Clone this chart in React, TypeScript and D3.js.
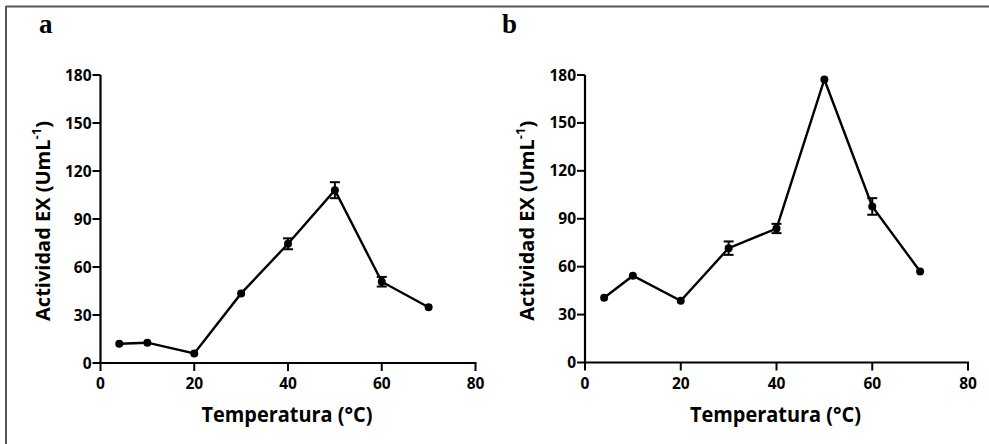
import React from "react";
import * as d3 from "d3";

const temps = [4, 10, 20, 30, 40, 50, 60, 70];
const activityA = [12, 12.7, 6, 43.5, 74.5, 108, 50.8, 34.8];
const errorA = [0, 0, 0, 0, 3.4, 5, 3, 0];
const activityB = [40.5, 54.3, 38.6, 71.6, 83.9, 177.2, 97.7, 57];
const errorB = [0, 0, 0, 4.2, 2.9, 0, 5.2, 0];
const xTicks = [0, 20, 40, 60, 80];
const yTicks = [0, 30, 60, 90, 120, 150, 180];
const panelLabels = ["a", "b"];
const xTitle = "Temperatura (°C)";
const yTitleMain = "Actividad EX (UmL";
const yTitleSup = "-1";

const W = 989;
const H = 444;
const FONT = "'Open Sans', 'DejaVu Sans', sans-serif";

type PanelProps = {
  values: number[];
  errors: number[];
  x0: number;
  x1: number;
  y0: number;
  y1: number;
  label: string;
  labelX: number;
  yTitleX: number;
};

function Panel({ values, errors, x0, x1, y0, y1, label, labelX, yTitleX }: PanelProps) {
  const x = d3.scaleLinear().domain([0, 80]).range([x0, x1]);
  const y = d3.scaleLinear().domain([0, 180]).range([y0, y1]);
  const line = d3
    .line<number>()
    .x((_, i) => x(temps[i]))
    .y((d) => y(d));
  const cx = (x0 + x1) / 2 - 1;
  const yMid = (y0 + y1) / 2 + 2;
  return (
    <g>
      <text
        x={labelX}
        y={33}
        fontFamily="'Liberation Serif', 'Times New Roman', serif"
        fontWeight="bold"
        fontSize={27}
        fill="#000"
      >
        {label}
      </text>
      {/* axes */}
      <line x1={x0} x2={x0} y1={y1} y2={y0 + 1} stroke="#000" strokeWidth={2.2} />
      <line x1={x0 - 1} x2={x1 + 1} y1={y0} y2={y0} stroke="#000" strokeWidth={2.2} />
      {xTicks.map((t) => (
        <g key={"xt" + t}>
          <line x1={x(t)} x2={x(t)} y1={y0} y2={y0 + 8} stroke="#000" strokeWidth={2} />
          <text
            x={x(t)}
            y={y0 + 26}
            textAnchor="middle"
            fontFamily={FONT}
            fontWeight="bold"
            fontSize={15.5}
            fill="#000"
          >
            {t}
          </text>
        </g>
      ))}
      {yTicks.map((t) => (
        <g key={"yt" + t}>
          <line x1={x0 - 8} x2={x0} y1={y(t)} y2={y(t)} stroke="#000" strokeWidth={2} />
          <text
            x={x0 - 9}
            y={y(t) + 5.5}
            textAnchor="end"
            fontFamily={FONT}
            fontWeight="bold"
            fontSize={15.5}
            fill="#000"
          >
            {t}
          </text>
        </g>
      ))}
      {/* titles */}
      <text
        x={cx}
        y={422}
        textAnchor="middle"
        fontFamily={FONT}
        fontWeight="bold"
        fontSize={20.5}
        fill="#000"
        textLength={171}
        lengthAdjust="spacingAndGlyphs"
      >
        {xTitle}
      </text>
      <text
        transform={`translate(${yTitleX},${yMid}) rotate(-90)`}
        textAnchor="middle"
        fontFamily={FONT}
        fontWeight="bold"
        fontSize={20}
        fill="#000"
      >
        {yTitleMain}
        <tspan fontSize={13} dy={-9}>
          {yTitleSup}
        </tspan>
        <tspan dy={9}>)</tspan>
      </text>
      {/* data */}
      <path d={line(values) || ""} fill="none" stroke="#000" strokeWidth={2.4} />
      {values.map((v, i) =>
        errors[i] > 0 ? (
          <g key={"e" + i} stroke="#000" strokeWidth={2}>
            <line x1={x(temps[i])} x2={x(temps[i])} y1={y(v + errors[i])} y2={y(v - errors[i])} />
            <line x1={x(temps[i]) - 5} x2={x(temps[i]) + 5} y1={y(v + errors[i])} y2={y(v + errors[i])} />
            <line x1={x(temps[i]) - 5} x2={x(temps[i]) + 5} y1={y(v - errors[i])} y2={y(v - errors[i])} />
          </g>
        ) : null
      )}
      {values.map((v, i) => (
        <circle key={"p" + i} cx={x(temps[i])} cy={y(v)} r={4} fill="#000" />
      ))}
    </g>
  );
}

export default function App() {
  return (
    <svg
      width={W}
      height={H}
      style={{ position: "absolute", left: 0, top: 0, background: "#fff" }}
    >
      <rect x={0} y={0} width={W} height={H} fill="#fff" />
      <line x1={6} x2={W} y1={6.5} y2={6.5} stroke="#555" strokeWidth={2} />
      <line x1={6} x2={6} y1={6} y2={H} stroke="#555" strokeWidth={2} />
      <Panel
        values={activityA}
        errors={errorA}
        x0={100.5}
        x1={475.5}
        y0={363}
        y1={75}
        label={panelLabels[0]}
        labelX={39}
        yTitleX={50}
      />
      <Panel
        values={activityB}
        errors={errorB}
        x0={585}
        x1={968}
        y0={362.5}
        y1={75}
        label={panelLabels[1]}
        labelX={502}
        yTitleX={534}
      />
    </svg>
  );
}
